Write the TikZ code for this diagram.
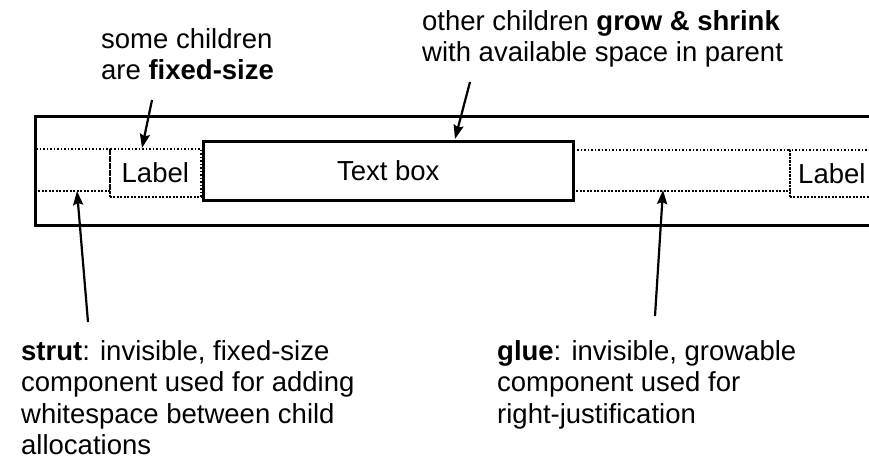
\documentclass[tikz,border=0pt]{standalone}
\usepackage{fontspec}
\setmainfont{Liberation Sans}
\usetikzlibrary{arrows.meta}
\begin{document}
\begin{tikzpicture}[x=1pt,y=-1pt,
  solidbox/.style={draw, line width=2.5pt, rectangle, inner sep=0pt},
  dotbox/.style={draw, line width=1.7pt, dash pattern=on 1.7pt off 1.8pt, rectangle, inner sep=0pt},
  note/.style={inner sep=0pt, anchor=base west, font=\fontsize{27.5}{31.5}\selectfont},
  arr/.style={-{Stealth[length=14pt,width=10pt,inset=2pt]}, line width=2.2pt},
  boxtext/.style={font=\fontsize{27.5}{31.5}\selectfont}]
\useasboundingbox (0,0) rectangle (869,467);
\clip (0,0) rectangle (869,467);
% parent
\node[solidbox, minimum width=880pt, minimum height=109pt, anchor=north west] (parent) at (34,115) {};
% children
\node[dotbox, minimum width=75pt, minimum height=42pt, anchor=north west] (strut) at (34,148) {};
\node[dotbox, minimum width=91pt, minimum height=48pt, anchor=north west, boxtext] (label1) at (109,148) {Label};
\node[solidbox, minimum width=370pt, minimum height=59pt, anchor=north west, boxtext] (textbox) at (202,140) {Text box};
\node[dotbox, minimum width=217pt, minimum height=41pt, anchor=north west] (glue) at (572,149) {};
\node[dotbox, minimum width=120pt, minimum height=47pt, anchor=north west] (label2) at (789,149) {};
\node[boxtext, anchor=base west, inner sep=0pt] (label2txt) at (798,183) {Label};
% notes
\node[note] (fixednote) at (101,48) {\begin{tabular}[t]{@{}l@{}}some children\\ are \textbf{fixed-size}\end{tabular}};
\node[note] (grownote) at (422,30) {\begin{tabular}[t]{@{}l@{}}other children \textbf{grow \& shrink}\\ with available space in parent\end{tabular}};
\node[note] (strutnote) at (21,360) {\begin{tabular}[t]{@{}l@{}}\textbf{strut}: invisible, fixed-size\\ component used for adding\\ whitespace between child\\ allocations\end{tabular}};
\node[note] (gluenote) at (497,360) {\begin{tabular}[t]{@{}l@{}}\textbf{glue}: invisible, growable\\ component used for\\ right-justification\end{tabular}};
% connector ends
\coordinate (a1s) at (152,100); \coordinate (a1e) at (142,148);
\coordinate (a2s) at (470,82);  \coordinate (a2e) at (455,139);
\coordinate (a3s) at (88,322);  \coordinate (a3e) at (77,191);
\coordinate (a4s) at (655,316); \coordinate (a4e) at (663,190);
\draw[arr] (a1s) -- (a1e);
\draw[arr] (a2s) -- (a2e);
\draw[arr] (a3s) -- (a3e);
\draw[arr] (a4s) -- (a4e);
\end{tikzpicture}
\end{document}
